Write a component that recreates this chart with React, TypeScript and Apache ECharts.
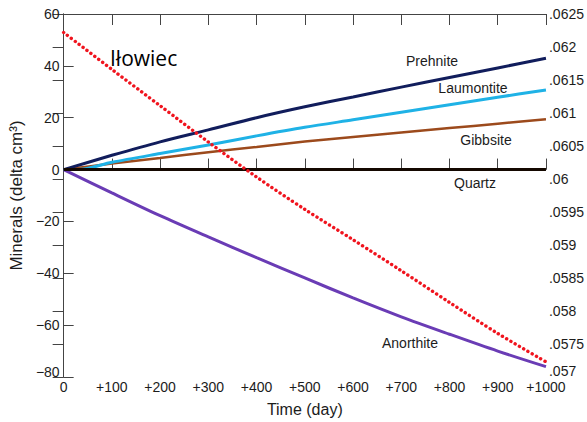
import React, { useEffect, useRef } from "react";
import * as echarts from "echarts";

const days = [0, 100, 200, 300, 400, 500, 600, 700, 800, 900, 1000];
const prehnite = [0, 5.5, 10.7, 15.3, 20, 24.2, 28, 31.8, 35.5, 39.2, 42.9];
const laumontiteDays = [0, 30, 100, 200, 300, 400, 500, 600, 700, 800, 900, 1000];
const laumontite = [0, 0, 2.8, 6.2, 9.5, 13.0, 16.3, 19.2, 22.1, 25, 27.9, 30.7];
const gibbsite = [0, 2.3, 4.5, 6.7, 8.7, 10.8, 12.6, 14.3, 16, 17.7, 19.4];
const quartz = [0, 0, 0, 0, 0, 0, 0, 0, 0, 0, 0];
const anorthite = [0, -9, -17.8, -26, -34, -41.8, -49.5, -56.8, -63.5, -70, -76];
const ilowiec = [0.06222, 0.06166, 0.06111, 0.06056, 0.06003, 0.05954, 0.05908, 0.05861, 0.05813, 0.05766, 0.05723];

const labels = [
  { text: "Prehnite", x: 432, y: 61 },
  { text: "Laumontite", x: 473, y: 88 },
  { text: "Gibbsite", x: 486, y: 140 },
  { text: "Quartz", x: 475, y: 183 },
  { text: "Anorthite", x: 410, y: 343 },
];

const pair = (xs: number[], ys: number[]) => xs.map((x, i) => [x, ys[i]]);

const FONT = "'Liberation Sans', Arial, sans-serif";
const AXIS_COLOR = "#444";
const TEXT_COLOR = "#1c1c1c";

export default function App() {
  const ref = useRef<HTMLDivElement>(null);
  useEffect(() => {
    if (!ref.current) return;
    const chart = echarts.init(ref.current, null, { renderer: "svg" });
    const axisLine = { show: true, lineStyle: { color: AXIS_COLOR, width: 1 } };
    const axisTick = { show: true, inside: true, length: 11, lineStyle: { color: AXIS_COLOR, width: 1 } };
    const option: any = {
      animation: false,
      backgroundColor: "#fff",
      grid: { left: 62, right: 41, top: 14, bottom: 45, containLabel: false },
      xAxis: [
        {
          type: "value",
          min: 0,
          max: 1000,
          interval: 100,
          position: "bottom",
          name: "Time (day)",
          nameLocation: "middle",
          nameGap: 24,
          nameTextStyle: { fontFamily: FONT, fontSize: 16, color: TEXT_COLOR },
          axisLine,
          axisTick,
          splitLine: { show: false },
          axisLabel: {
            margin: 3,
            fontFamily: FONT,
            fontSize: 14,
            color: TEXT_COLOR,
            formatter: (v: number) => (v === 0 ? "0" : "+" + v),
          },
        },
        {
          type: "value",
          min: 0,
          max: 1000,
          interval: 100,
          position: "top",
          axisLine,
          axisTick,
          splitLine: { show: false },
          axisLabel: { show: false },
        },
      ],
      yAxis: [
        {
          type: "value",
          min: -80,
          max: 60,
          interval: 20,
          position: "left",
          name: "Minerals (delta cm³)",
          nameLocation: "middle",
          nameGap: 27,
          nameTextStyle: { fontFamily: FONT, fontSize: 17, color: TEXT_COLOR },
          axisLine,
          axisTick: { ...axisTick, length: 10 },
          splitLine: { show: false },
          axisLabel: {
            margin: 4,
            fontFamily: FONT,
            fontSize: 14,
            color: TEXT_COLOR,
            formatter: (v: number) => {
              if (v === -80) return "{lo|−80}";
              return v < 0 ? "−" + Math.abs(v) : String(v);
            },
            rich: { lo: { fontFamily: FONT, fontSize: 14, color: TEXT_COLOR, padding: [0, 0, 10, 0] } },
          },
        },
        {
          type: "value",
          min: 0.057,
          max: 0.0625,
          interval: 0.0005,
          position: "right",
          axisLine,
          axisTick,
          splitLine: { show: false },
          axisLabel: {
            margin: 3,
            fontFamily: FONT,
            fontSize: 14,
            color: TEXT_COLOR,
            formatter: (v: number) => {
              const s = Number(v.toFixed(4)).toString().replace(/^0/, "");
              return Math.abs(v - 0.057) < 1e-6 ? "{lo|" + s + "}" : s;
            },
            rich: { lo: { fontFamily: FONT, fontSize: 14, color: TEXT_COLOR, padding: [0, 0, 12, 0] } },
          },
        },
      ],
      series: [
        {
          name: "Anorthite",
          type: "line",
          data: pair(days, anorthite),
          showSymbol: false,
          smooth: 0.3,
          lineStyle: { color: "#6a3cb5", width: 3 },
        },
        {
          name: "Gibbsite",
          type: "line",
          data: pair(days, gibbsite),
          showSymbol: false,
          smooth: 0.3,
          lineStyle: { color: "#9c4a1c", width: 2.5 },
        },
        {
          name: "Laumontite",
          type: "line",
          data: pair(laumontiteDays, laumontite),
          showSymbol: false,
          smooth: 0.3,
          lineStyle: { color: "#1fb2e6", width: 3 },
        },
        {
          name: "Prehnite",
          type: "line",
          data: pair(days, prehnite),
          showSymbol: false,
          smooth: 0.3,
          lineStyle: { color: "#111d5c", width: 3 },
        },
        {
          name: "Quartz",
          type: "line",
          data: pair(days, quartz),
          showSymbol: false,
          lineStyle: { color: "#140800", width: 3 },
        },
        {
          name: "Iłowiec",
          type: "line",
          yAxisIndex: 1,
          data: pair(days, ilowiec),
          showSymbol: false,
          smooth: 0.3,
          lineStyle: { color: "#f0141e", width: 3.4, type: [0.1, 4.8], cap: "round" },
        },
      ],
      graphic: [
        ...labels.map((l) => ({
          type: "text",
          x: l.x,
          y: l.y,
          style: {
            text: l.text,
            fontFamily: FONT,
            fontSize: 14,
            fill: TEXT_COLOR,
            textAlign: "center",
            textVerticalAlign: "middle",
          },
        })),
        {
          type: "text",
          x: 110,
          y: 58,
          style: {
            text: "Iłowiec",
            fontFamily: "'Open Sans', sans-serif",
            fontSize: 21,
            fill: "#000",
            textAlign: "left",
            textVerticalAlign: "middle",
          },
        },
      ],
    };
    chart.setOption(option);
    return () => chart.dispose();
  }, []);
  return <div ref={ref} style={{ width: 587, height: 422, position: "absolute", left: 0, top: 0 }} />;
}
